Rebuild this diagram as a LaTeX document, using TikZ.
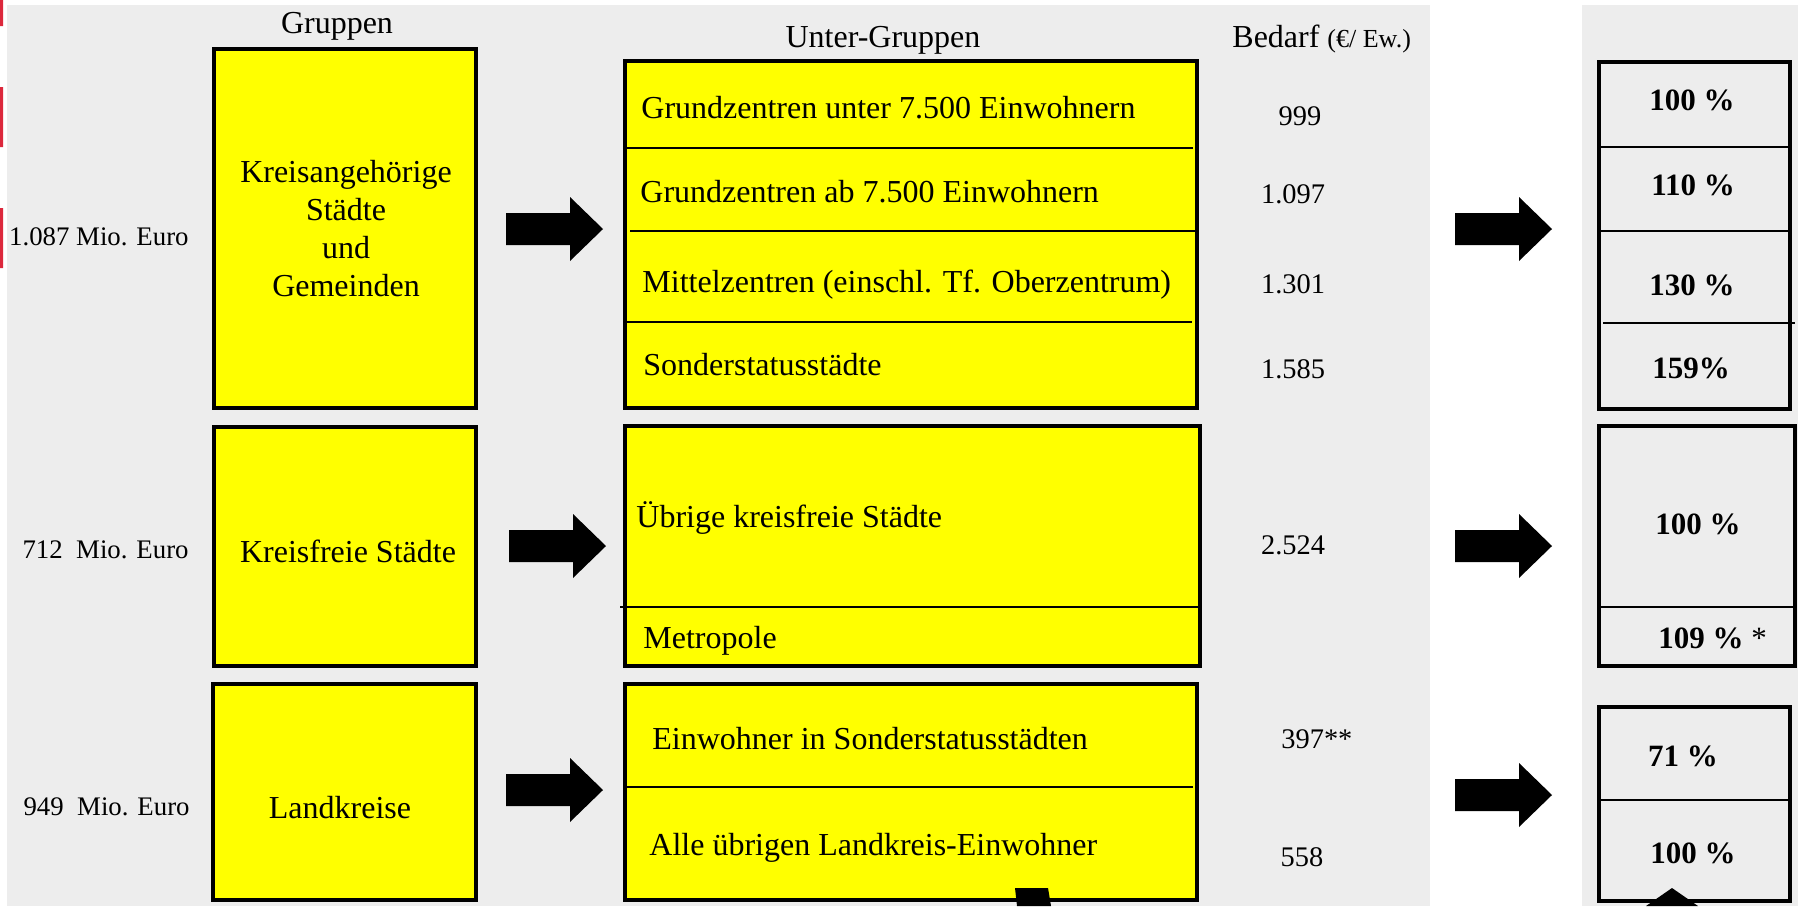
\documentclass[tikz,border=0pt]{standalone}
\usepackage{fontspec}
\setmainfont{Liberation Serif}
\definecolor{bg}{HTML}{EDEDED}
\definecolor{yel}{HTML}{FFFF00}
\definecolor{redm}{HTML}{DC283C}
\begin{document}
\begin{tikzpicture}[x=0.5pt,y=-0.5pt,
 ybox/.style={draw=black, line width=2pt, fill=yel, inner sep=0pt},
 gbox/.style={draw=black, line width=2pt, inner sep=0pt},
 divl/.style={line width=1pt},
 txt/.style={inner sep=0pt, font=\fontsize{16}{19}\selectfont},
 val/.style={inner sep=0pt, font=\fontsize{14.2}{17}\selectfont},
 lbl/.style={inner sep=0pt, font=\fontsize{13.4}{16}\selectfont},
 pct/.style={inner sep=0pt, font=\fontsize{15.5}{18}\selectfont\bfseries},
 barrow/.pic={\fill (0,-16) -- (64,-16) -- (64,-32) -- (97,0) -- (64,32) -- (64,16) -- (0,16) -- cycle;}
]
\useasboundingbox (0,0) rectangle (1798,906);
% backgrounds
\fill[bg] (7,5) rectangle (1430,906);
\fill[bg] (1582,5) rectangle (1798,906);
\fill[redm] (0,0) rectangle (3,26) (0,87) rectangle (3,147) (0,208) rectangle (3,268);

% group boxes
\node[ybox, minimum width=131pt, minimum height=179.5pt] (g1) at (345,228.5) {};
\node[ybox, minimum width=131pt, minimum height=119.5pt] (g2) at (345,546.5) {};
\node[ybox, minimum width=131.5pt, minimum height=108pt] (g3) at (344.5,792) {};

% sub-group boxes
\node[ybox, minimum width=286pt, minimum height=173.5pt] (s1) at (911,234.5) {};
\node[ybox, minimum width=287.5pt, minimum height=120pt] (s2) at (912.5,546) {};
\node[ybox, minimum width=286pt, minimum height=108pt] (s3) at (911,792) {};

% percentage boxes
\node[gbox, minimum width=95.5pt, minimum height=173.5pt] (r1) at (1694.5,235.5) {};
\node[gbox, minimum width=98pt, minimum height=120pt] (r2) at (1697,546) {};
\node[gbox, minimum width=95.5pt, minimum height=97pt] (r3) at (1694.5,804) {};

% dividers
\draw[divl] (627,148) -- (1193,148);
\draw[divl] (630,231) -- (1196,231);
\draw[divl] (625,322) -- (1192,322);
\draw[divl] (620,607) -- (1200,607);
\draw[divl] (627,787) -- (1193,787);
\draw[divl] (1600,147) -- (1789,147);
\draw[divl] (1600,231) -- (1792,231);
\draw[divl] (1603,323) -- (1795,323);
\draw[divl] (1600,607) -- (1795,607);
\draw[divl] (1600,800) -- (1789,800);

% block arrows
\pic at (506,229) {barrow};
\pic at (509,546) {barrow};
\pic at (506,790) {barrow};
\pic at (1455,229) {barrow};
\pic at (1455,546) {barrow};
\pic at (1455,795) {barrow};

% cut-off shapes at the bottom edge
\fill (1015,888) -- (1048,888) -- (1051,906) -- (1017,906) -- cycle;
\fill (1672,888) -- (1698,906) -- (1646,906) -- cycle;

% headers
\node[txt, anchor=base] (h1) at (337,33) {Gruppen};
\node[txt, anchor=base] (h2) at (883,47) {Unter-Gruppen};
\node[txt, anchor=base west] (h3) at (1232,47) {Bedarf {\fontsize{13}{15}\selectfont(€/ Ew.)}};

% amounts
\node[lbl, anchor=base east] (m1) at (189,245) {1.087 Mio. Euro};
\node[lbl, anchor=base east] (m2) at (189,558) {712\ \ Mio. Euro};
\node[lbl, anchor=base east] (m3) at (190,815) {949\ \ Mio. Euro};

% group texts
\node[txt, align=center] (g1t) at (346,229) {Kreisangehörige\\Städte\\und\\Gemeinden};
\node[txt, anchor=base] (g2t) at (348,562) {Kreisfreie Städte};
\node[txt, anchor=base] (g3t) at (340,818) {Landkreise};

% sub-group texts
\node[txt, anchor=base west] (t1) at (641,118) {Grundzentren unter 7.500 Einwohnern};
\node[txt, anchor=base west] (t2) at (640,202) {Grundzentren ab 7.500 Einwohnern};
\node[txt, anchor=base west] (t3) at (642,292) {Mittelzentren (einschl. Tf. Oberzentrum)};
\node[txt, anchor=base west] (t4) at (643,375) {Sonderstatusstädte};
\node[txt, anchor=base west] (t5) at (636,527) {Übrige kreisfreie Städte};
\node[txt, anchor=base west] (t6) at (643,648) {Metropole};
\node[txt, anchor=base west] (t7) at (652,749) {Einwohner in Sonderstatusstädten};
\node[txt, anchor=base west] (t8) at (649,855) {Alle übrigen Landkreis-Einwohner};

% Bedarf values
\node[val, anchor=base] (v1) at (1300,125) {999};
\node[val, anchor=base] (v2) at (1293,203) {1.097};
\node[val, anchor=base] (v3) at (1293,293) {1.301};
\node[val, anchor=base] (v4) at (1293,378) {1.585};
\node[val, anchor=base] (v5) at (1293,554) {2.524};
\node[val, anchor=base west] (v6) at (1281,748) {397**};
\node[val, anchor=base] (v7) at (1302,866) {558};

% percentages
\node[pct, anchor=base] (p1) at (1692,110) {100 \%};
\node[pct, anchor=base] (p2) at (1693,195) {110 \%};
\node[pct, anchor=base] (p3) at (1692,295) {130 \%};
\node[pct, anchor=base] (p4) at (1691,378) {159\%};
\node[pct, anchor=base] (p5) at (1698,534) {100 \%};
\node[pct, anchor=base west] (p6) at (1658,648) {109 \% {\mdseries *}};
\node[pct, anchor=base] (p7) at (1683,766) {71 \%};
\node[pct, anchor=base] (p8) at (1693,863) {100 \%};
\end{tikzpicture}
\end{document}
